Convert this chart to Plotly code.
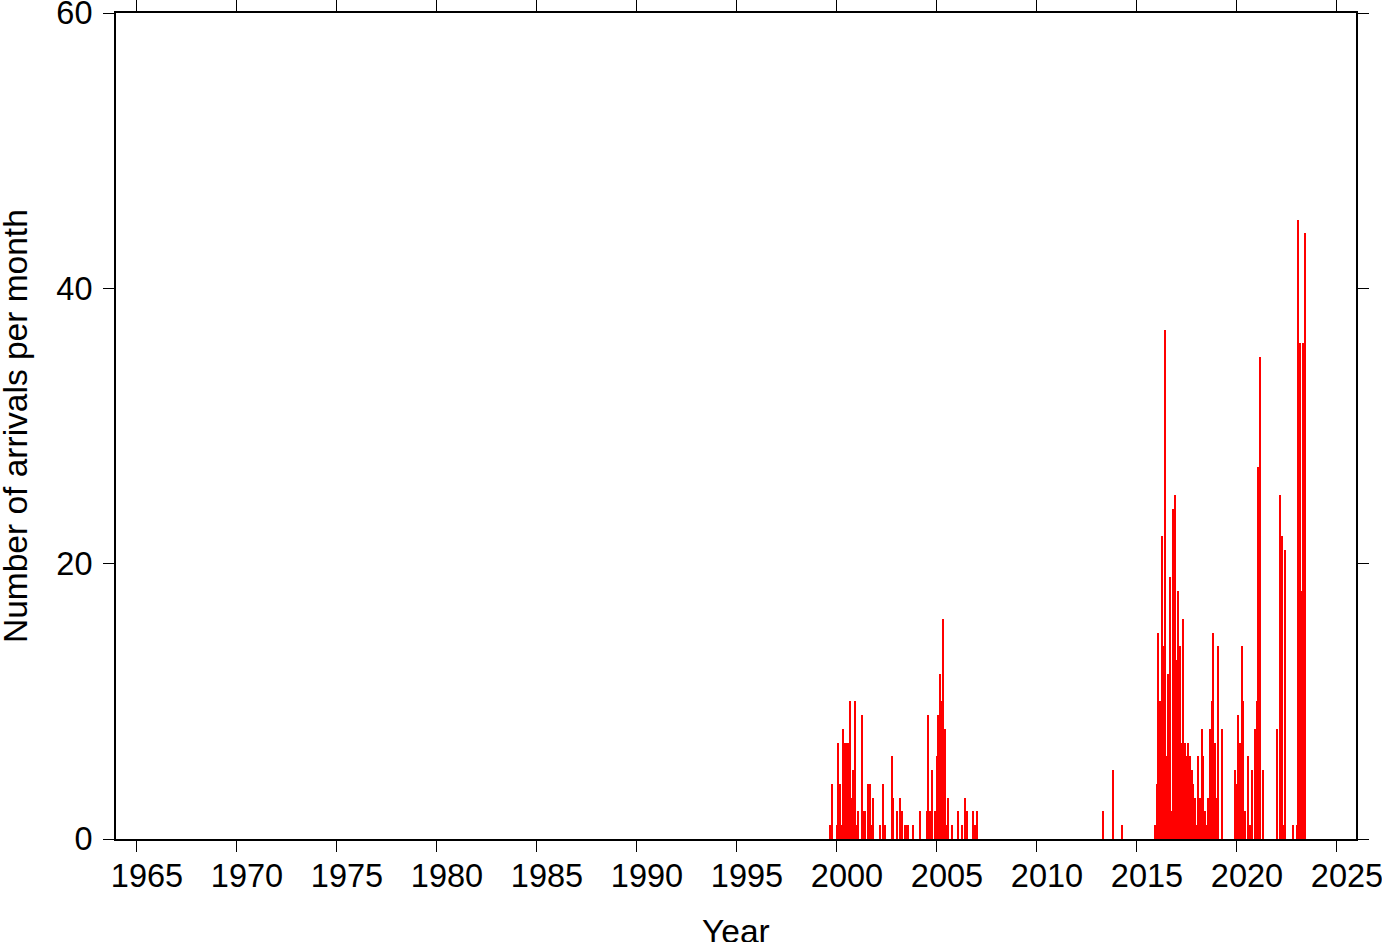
import plotly.graph_objects as go

# Monthly arrival counts (month label, count); months not listed have zero arrivals
months = [
    "1999-09", "1999-10",
    "2000-01", "2000-02", "2000-03", "2000-04", "2000-05", "2000-06", "2000-07", "2000-08",
    "2000-09", "2000-10", "2000-11", "2000-12",
    "2001-01", "2001-02", "2001-04", "2001-05", "2001-06", "2001-08", "2001-09", "2001-10", "2001-11",
    "2002-03", "2002-05", "2002-06", "2002-10", "2002-11",
    "2003-01", "2003-03", "2003-04", "2003-06", "2003-07", "2003-08", "2003-11",
    "2004-03", "2004-07", "2004-08", "2004-09", "2004-10", "2004-12",
    "2005-01", "2005-02", "2005-03", "2005-04", "2005-05", "2005-06", "2005-07", "2005-08", "2005-10",
    "2006-02", "2006-04", "2006-06", "2006-07", "2006-11", "2006-12",
    "2007-01",
    "2013-05", "2013-11", "2014-04",
    "2015-12",
    "2016-01", "2016-02", "2016-03", "2016-04", "2016-05", "2016-06", "2016-07", "2016-08",
    "2016-09", "2016-10", "2016-11", "2016-12",
    "2017-01", "2017-02", "2017-03", "2017-04", "2017-05", "2017-06", "2017-07", "2017-08",
    "2017-09", "2017-10", "2017-11", "2017-12",
    "2018-01", "2018-02", "2018-03", "2018-04", "2018-05", "2018-06", "2018-07", "2018-08",
    "2018-09", "2018-10", "2018-11", "2018-12",
    "2019-01", "2019-02", "2019-04", "2019-12",
    "2020-01", "2020-02", "2020-03", "2020-04", "2020-05", "2020-06", "2020-08", "2020-09",
    "2020-10", "2020-12",
    "2021-01", "2021-02", "2021-03", "2021-05",
    "2022-01", "2022-03", "2022-04", "2022-05", "2022-06", "2022-11",
    "2023-01", "2023-02", "2023-03", "2023-04", "2023-05", "2023-06",
]
counts = [
    1, 4,
    1, 7, 4, 1, 8, 7, 7, 7,
    10, 3, 5, 10,
    1, 2, 9, 2, 2, 4, 4, 1, 3,
    1, 4, 1, 6, 3,
    2, 3, 2, 1, 1, 1, 1,
    2, 2, 9, 2, 5, 2,
    6, 9, 12, 10, 16, 8, 1, 3, 1,
    2, 1, 3, 2, 2, 1,
    2,
    2, 5, 1,
    1,
    4, 15, 10, 22, 14, 37, 6, 12,
    19, 2, 24, 25,
    13, 18, 14, 7, 16, 7, 6, 7,
    6, 5, 4, 3,
    1, 6, 3, 8, 6, 2, 1, 3,
    8, 10, 15, 7,
    3, 14, 8, 5,
    4, 9, 7, 14, 10, 2, 6, 1,
    5, 8,
    10, 27, 35, 5,
    8, 25, 22, 1, 21, 1,
    1, 45, 36, 18, 36, 44,
]

x_range = [1964, 2026]
year_ticks = list(range(1965, 2030, 5))
year_labels = [str(y) for y in year_ticks]
y_ticks = [0, 20, 40, 60]
x_title = "Year"
y_title = "Number of arrivals per month"

# decimal year of the start of each month
x_dec = [int(m[:4]) + (int(m[5:7]) - 1) / 12 for m in months]

FONT = "Liberation Sans, Arial, Helvetica, sans-serif"
TICK_SIZE = 32.5
TITLE_SIZE = 33.5

fig = go.Figure()
fig.add_trace(go.Bar(
    x=x_dec, y=counts,
    width=[1 / 12] * len(x_dec), offset=0,
    marker=dict(color="rgb(255,0,0)", line=dict(width=0)),
    showlegend=False,
))

fig.update_layout(
    width=1382, height=942,
    margin=dict(l=116, r=26, t=13, b=103, autoexpand=False),
    paper_bgcolor="white", plot_bgcolor="white",
    font=dict(family=FONT, size=TICK_SIZE, color="black"),
    bargap=0,
)
fig.update_xaxes(
    range=x_range, tickmode="array", tickvals=year_ticks, ticktext=year_labels,
    ticks="outside", ticklen=11, tickwidth=1.2, tickcolor="black",
    showline=True, linewidth=2, linecolor="black", mirror="ticks",
    showgrid=False, zeroline=False, automargin=False,
    ticklabelshift=11, ticklabelstandoff=-4, ticklabeloverflow="allow",
    tickfont=dict(family=FONT, size=TICK_SIZE, color="black"),
)
fig.update_yaxes(
    range=[0, 60], tickmode="array", tickvals=y_ticks,
    ticks="outside", ticklen=11, tickwidth=1.2, tickcolor="black",
    showline=True, linewidth=2, linecolor="black", mirror="ticks",
    showgrid=False, zeroline=False, automargin=False,
    ticklabelstandoff=4, ticklabeloverflow="allow",
    tickfont=dict(family=FONT, size=TICK_SIZE, color="black"),
)

# axis titles as annotations so they can sit right at the page edges
fig.add_annotation(
    text=x_title, xref="paper", yref="paper", x=0.5, y=0,
    xanchor="center", yanchor="middle", yshift=-92, showarrow=False,
    font=dict(family=FONT, size=TITLE_SIZE, color="black"),
)
fig.add_annotation(
    text=y_title, xref="paper", yref="paper", x=0, y=0.5,
    xanchor="center", yanchor="middle", xshift=-101, textangle=-90, showarrow=False,
    font=dict(family=FONT, size=TITLE_SIZE, color="black"),
)

fig.write_html(
    "out.html",
    config={"displayModeBar": False},
    post_script="document.body.style.margin='0';",
)
